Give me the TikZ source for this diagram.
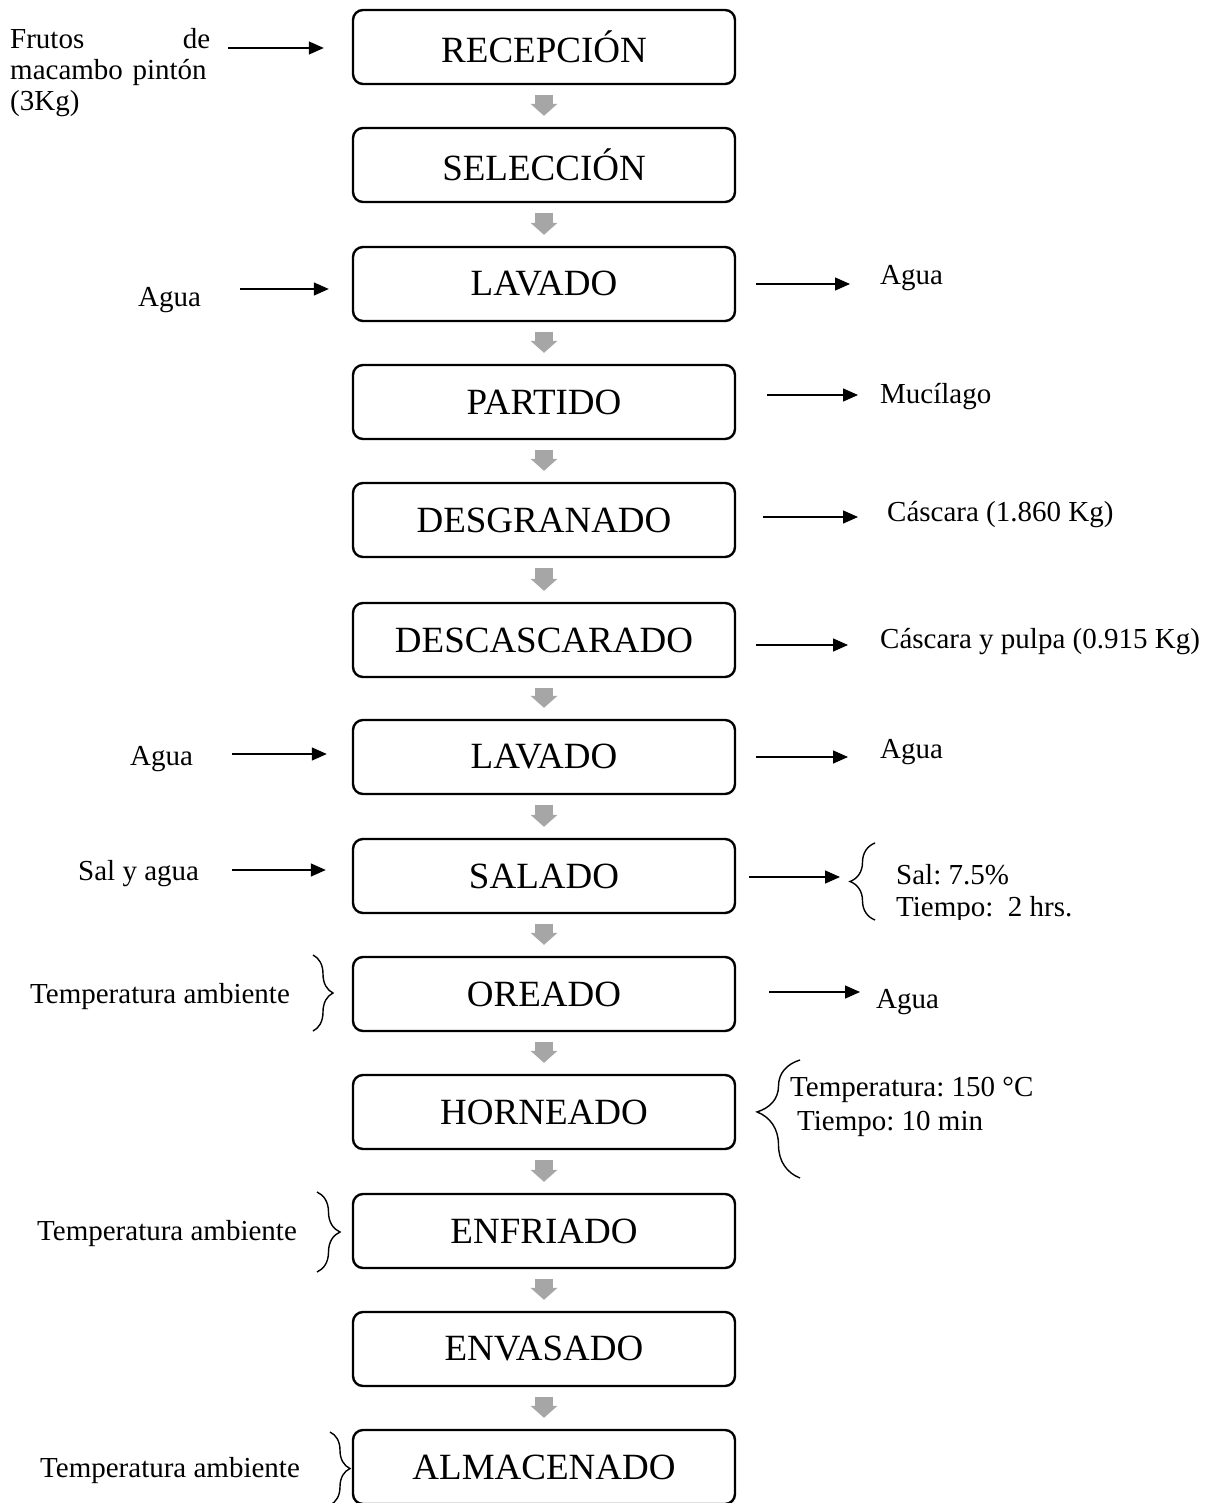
\documentclass[tikz,border=0pt]{standalone}
\usepackage{fontspec}
\setmainfont{Liberation Serif}
\usetikzlibrary{arrows.meta,decorations.pathreplacing}
\definecolor{arrowgray}{RGB}{166,166,166}
\frenchspacing
\tikzset{
  stepbox/.style={draw, line width=2.4pt, rounded corners=10pt, minimum width=382pt,
    minimum height=74pt, inner sep=0pt, font=\fontsize{37}{40}\selectfont},
  flow/.style={draw=arrowgray, line width=18pt,
    -{Triangle[length=12pt,width=27pt,line width=0pt]}, shorten <=10pt, shorten >=11pt},
  arr/.style={line width=1.4pt, -{Triangle[length=15pt,width=13pt]}},
  lbl/.style={inner sep=0pt, anchor=base west, font=\fontsize{29}{33}\selectfont},
  brc/.style={decorate, line width=1.4pt},
}
\begin{document}
\begin{tikzpicture}[x=1pt,y=-1pt]
\useasboundingbox (0,0) rectangle (1211,1503);

% process boxes
\node[stepbox] (rec)  at (544,47)   {RECEPCIÓN};
\node[stepbox] (sel)  at (544,165)  {SELECCIÓN};
\node[stepbox] (lav1) at (544,284)  {LAVADO};
\node[stepbox] (par)  at (544,402)  {PARTIDO};
\node[stepbox] (des)  at (544,520)  {DESGRANADO};
\node[stepbox] (dsc)  at (544,640)  {DESCASCARADO};
\node[stepbox] (lav2) at (544,757)  {LAVADO};
\node[stepbox] (sal)  at (544,876)  {SALADO};
\node[stepbox] (ore)  at (544,994)  {OREADO};
\node[stepbox] (hor)  at (544,1112) {HORNEADO};
\node[stepbox] (enf)  at (544,1231) {ENFRIADO};
\node[stepbox] (env)  at (544,1349) {ENVASADO};
\node[stepbox] (alm)  at (544,1467) {ALMACENADO};

% gray flow arrows
\foreach \a/\b in {rec/sel, sel/lav1, lav1/par, par/des, des/dsc, dsc/lav2,
  lav2/sal, sal/ore, ore/hor, hor/enf, enf/env, env/alm}
  \draw[flow] (\a.south) -- (\b.north);

% left labels
\node[inner sep=0pt, anchor=base west, text width=200pt, align=left,
  font=\fontsize{29}{31}\selectfont] (frutos) at (10,49)
  {Frutos\hfill de\\macambo pintón\\(3Kg)};
\node[lbl] (agua1) at (138,307) {Agua};
\node[lbl] (agua3) at (130,765) {Agua};
\node[lbl] (saly)  at (78,880)  {Sal y agua};
\node[lbl] (temp1) at (30,1003) {Temperatura ambiente};
\node[lbl] (temp2) at (37,1240) {Temperatura ambiente};
\node[lbl] (temp3) at (40,1477) {Temperatura ambiente};

% right labels
\node[lbl] (agua2) at (880,285)  {Agua};
\node[lbl] (muci)  at (880,403)  {Mucílago};
\node[lbl] (casc1) at (887,521)  {Cáscara (1.860 Kg)};
\node[lbl] (casc2) at (880,648)  {Cáscara y pulpa (0.915 Kg)};
\node[lbl] (agua4) at (880,758)  {Agua};
\node[lbl] (salp)  at (896,884)  {Sal: 7.5\%};
\begin{scope}
  \clip (880,890) rectangle (1120,919);
  \node[lbl] (tiem1) at (896,916) {Tiempo:\ \ 2 hrs.};
\end{scope}
\node[lbl] (agua5) at (876,1008) {Agua};
\node[lbl] (htemp) at (790,1096) {Temperatura: 150 °C};
\node[lbl] (htime) at (797,1130) {Tiempo: 10 min};

% left arrow start points
\coordinate (l1) at (228,48);
\coordinate (l2) at (240,289);
\coordinate (l3) at (232,754);
\coordinate (l4) at (232,870);
\draw[arr, shorten >=28pt] (l1) -- (l1 -| rec.west);
\draw[arr, shorten >=23pt] (l2) -- (l2 -| lav1.west);
\draw[arr, shorten >=25pt] (l3) -- (l3 -| lav2.west);
\draw[arr, shorten >=26pt] (l4) -- (l4 -| sal.west);

% right arrow tips
\coordinate (r1) at (850,284);
\coordinate (r2) at (858,395);
\coordinate (r3) at (858,517);
\coordinate (r4) at (848,645);
\coordinate (r5) at (848,757);
\coordinate (r6) at (840,877);
\coordinate (r7) at (860,992);
\draw[arr, shorten <=20pt] (r1 -| lav1.east) -- (r1);
\draw[arr, shorten <=31pt] (r2 -| par.east) -- (r2);
\draw[arr, shorten <=27pt] (r3 -| des.east) -- (r3);
\draw[arr, shorten <=20pt] (r4 -| dsc.east) -- (r4);
\draw[arr, shorten <=20pt] (r5 -| lav2.east) -- (r5);
\draw[arr, shorten <=13pt] (r6 -| sal.east) -- (r6);
\draw[arr, shorten <=33pt] (r7 -| ore.east) -- (r7);

% braces
\draw[brc, decoration={brace, amplitude=25pt}] (875,920) -- (875,843);
\draw[brc, decoration={brace, amplitude=20pt}] (313,955) -- (313,1031);
\draw[brc, decoration={brace, amplitude=43pt, aspect=0.56}] (800,1178) -- (800,1060);
\draw[brc, decoration={brace, amplitude=23pt}] (317,1192) -- (317,1272);
\draw[brc, decoration={brace, amplitude=20pt}] (330,1432) -- (330,1505);
\end{tikzpicture}
\end{document}
